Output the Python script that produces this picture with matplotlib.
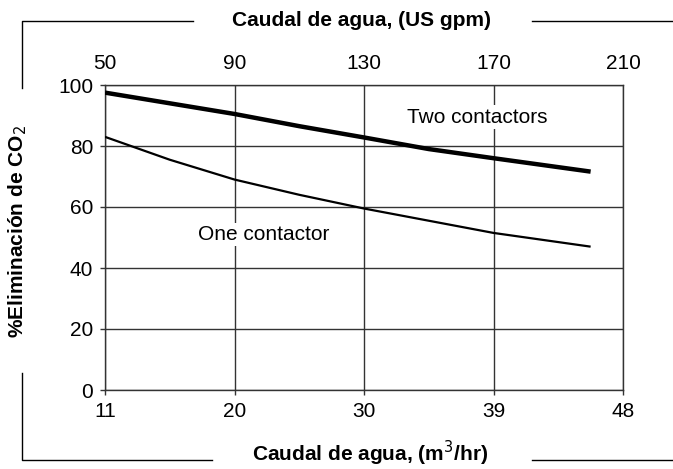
"""
Eliminación de CO2 frente a caudal de agua (uno y dos contactores)
"""

import matplotlib.pyplot as plt
from matplotlib.lines import Line2D

plt.rcParams['font.family'] = ['Liberation Sans', 'DejaVu Sans']

# Datos (caudal en US gpm)
gpm_ticks = [50, 90, 130, 170, 210]
m3hr_labels = ['11', '20', '30', '39', '48']
y_ticks = [0, 20, 40, 60, 80, 100]

flow_gpm = [50, 70, 90, 110, 130, 150, 170, 200]
two_contactors = [97.5, 94.0, 90.5, 86.5, 82.8, 79.0, 76.0, 71.6]
one_contactor = [83.0, 75.5, 69.0, 64.0, 59.5, 55.5, 51.5, 47.0]

W, H = 673, 469
FS = 15
fig = plt.figure(figsize=(W / 100, H / 100), dpi=100)
ax = fig.add_axes([105 / W, 1 - 390 / H, (623 - 105) / W, (390 - 85) / H])

grid_col = '#333333'
ax.plot(flow_gpm, two_contactors, color='black', lw=3.2, solid_capstyle='butt', zorder=3)
ax.plot(flow_gpm, one_contactor, color='black', lw=1.6, solid_capstyle='butt', zorder=3)

ax.set_xlim(50, 210)
ax.set_ylim(0, 100)
ax.set_xticks(gpm_ticks)
ax.set_xticklabels(m3hr_labels)
ax.set_yticks(y_ticks)
ax.grid(True, color=grid_col, lw=1.0)
ax.set_axisbelow(True)
for s in ax.spines.values():
    s.set_color(grid_col)
    s.set_linewidth(1.0)
ax.tick_params(axis='both', direction='out', length=3.5, width=1.0, color=grid_col,
               labelsize=FS)
ax.tick_params(axis='x', pad=5)
ax.tick_params(axis='y', pad=5)

# eje superior en US gpm
ax2 = ax.twiny()
ax2.set_xlim(ax.get_xlim())
ax2.set_xticks(gpm_ticks)
ax2.set_xticklabels([str(v) for v in gpm_ticks])
ax2.tick_params(axis='x', length=0, labelsize=FS, pad=8.5)
for s in ax2.spines.values():
    s.set_visible(False)

# etiquetas de las curvas
box = dict(facecolor='white', edgecolor='none', pad=1.5)
ax.text(165, 89.5, 'Two contactors', fontsize=FS, ha='center', va='center', bbox=box, zorder=4)
ax.text(99, 51, 'One contactor', fontsize=FS, ha='center', va='center', bbox=box, zorder=4)

# marco exterior con títulos de los ejes
def fline(xs, ys):
    fig.add_artist(Line2D([x / W for x in xs], [1 - y / H for y in ys],
                          color='black', lw=1.0, transform=fig.transFigure))

fline([22, 22, 193], [88, 21, 21])
fline([532, 673], [21, 21])
fline([22, 22, 212], [373, 460, 460])
fline([532, 673], [460, 460])

fig.text(362 / W, 1 - 20 / H, 'Caudal de agua, (US gpm)', fontsize=FS, fontweight='bold',
         ha='center', va='center')
fig.text(370 / W, 1 - 453 / H, 'Caudal de agua, (m$^3$/hr)', fontsize=FS, fontweight='bold',
         ha='center', va='center')
fig.text(18 / W, 1 - 231 / H, '%Eliminación de CO$_2$', fontsize=FS, fontweight='bold',
         rotation=90, ha='center', va='center')

fig.savefig('out.png', dpi=100)
